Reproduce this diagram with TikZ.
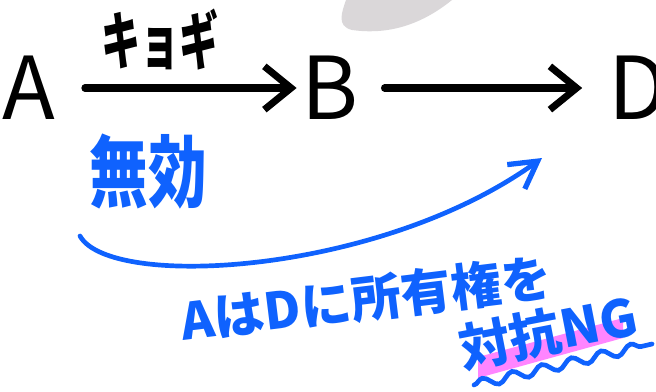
\documentclass[tikz,border=0pt]{standalone}
\usepackage{fontspec}
\usepackage{xcolor}
\newfontfamily\jpfont{Noto Sans CJK JP}
\usetikzlibrary{arrows.meta,positioning,decorations.pathmorphing}
\definecolor{penblue}{HTML}{0F62FE}
\definecolor{markpink}{HTML}{FF85FF}
\definecolor{blobgray}{HTML}{DAD7D9}

\begin{document}
\begin{tikzpicture}[x=0.03cm, y=-0.03cm,
    letter/.style={font=\jpfont\fontsize{74}{74}\selectfont, inner sep=0pt},
    note/.style={font=\jpfont\bfseries\fontsize{#1}{#1}\selectfont, text=penblue, inner sep=0pt},
    arr/.style={-{Straight Barb[length=8mm, width=13mm, line width=6pt]}, line width=6pt, line cap=round},
    barr/.style={-{Straight Barb[length=8mm, width=9mm, line width=4.5pt]}, line width=4pt, penblue, line cap=round}
]
    \useasboundingbox (0,0) rectangle (656,391);
    % background smudge
    \fill[blobgray] (346,0) .. controls (342,12) and (336,26) .. (352,30)
        .. controls (380,34) and (415,30) .. (452,0) -- cycle;
    \node[letter] (A) at (29,88) {A};
    \node[letter] (B) at (330,88) {B};
    \node[letter] (D) at (638,88) {D};
    \node[font=\jpfont\bfseries\fontsize{54}{54}\selectfont, inner sep=0pt,
        xscale=0.62, transform shape] (kyogi) at (160,40) {キョギ};
    \draw[arr, shorten <=25pt, shorten >=4pt] (A) -- (B);
    \draw[arr, shorten <=22pt, shorten >=22pt] (B) -- (D);
    % notes in blue
    \node[note=50, yscale=1.35, transform shape] (muko) at (148,172) {無効};
    \coordinate (s) at (80,236);
    \coordinate (e) at (542,158);
    \draw[barr] (s) .. controls (110,290) and (380,275) .. (e);
    \fill[markpink] (478,357) -- (623,318) -- (623,338) -- (478,378) -- cycle;
    \node[note=43, rotate=7] (own) at (366,299) {AはDに所有権を};
    \node[note=44, rotate=11] (ng) at (548,332) {対抗NG};
    \coordinate (w1) at (474,385);
    \coordinate (w2) at (652,344);
    \draw[penblue, line width=4pt, line cap=round,
        decorate, decoration={snake, amplitude=4pt, segment length=26pt}] (w1) -- (w2);
\end{tikzpicture}
\end{document}
